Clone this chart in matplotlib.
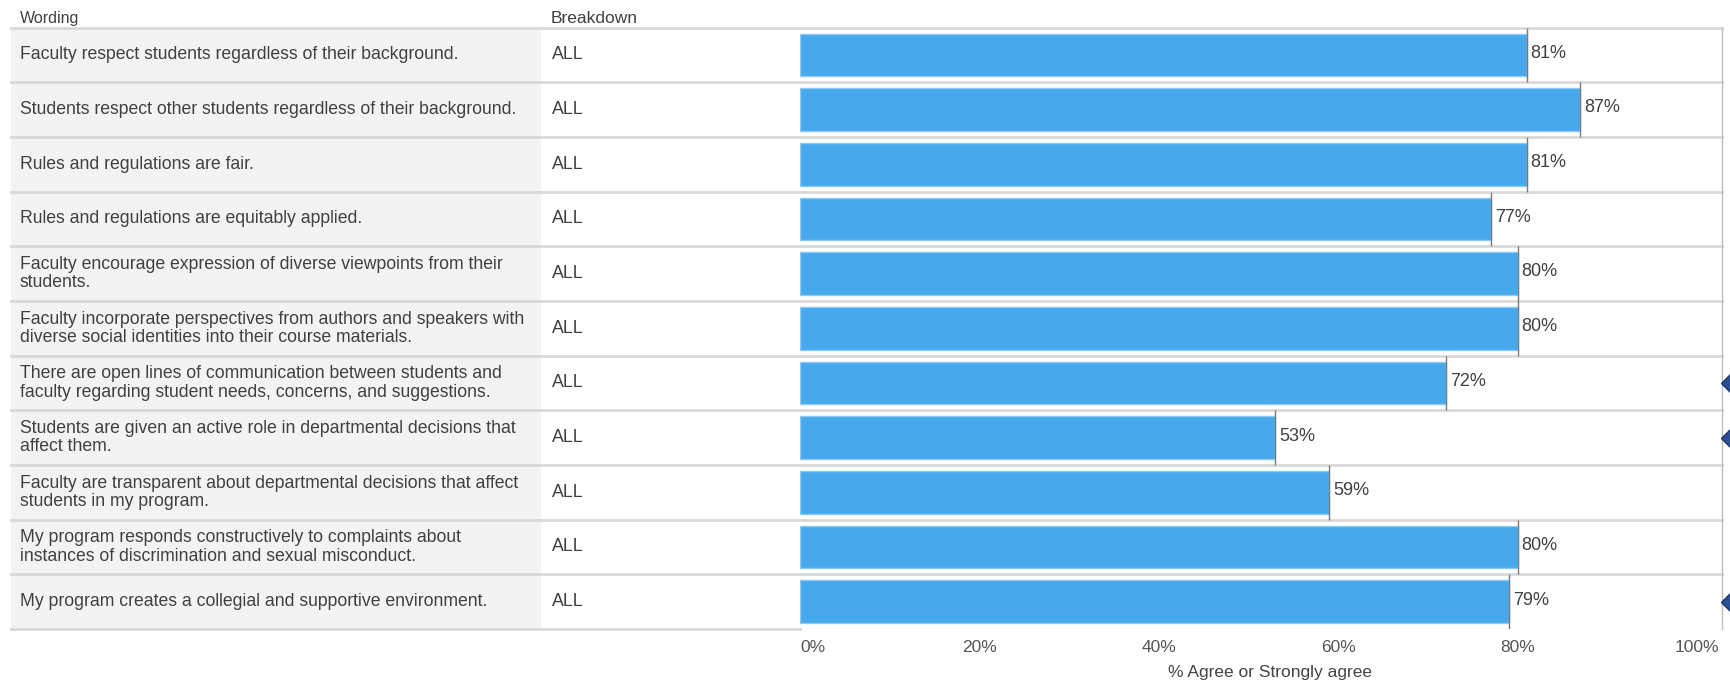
import matplotlib
matplotlib.use("Agg")
import matplotlib.pyplot as plt
import matplotlib.transforms as mtransforms
from matplotlib.patches import Rectangle

# =========================
# DATA
# =========================

wording = [
    "Faculty respect students regardless of their background.",
    "Students respect other students regardless of their background.",
    "Rules and regulations are fair.",
    "Rules and regulations are equitably applied.",
    "Faculty encourage expression of diverse viewpoints from their\nstudents.",
    "Faculty incorporate perspectives from authors and speakers with\ndiverse social identities into their course materials.",
    "There are open lines of communication between students and\nfaculty regarding student needs, concerns, and suggestions.",
    "Students are given an active role in departmental decisions that\naffect them.",
    "Faculty are transparent about departmental decisions that affect\nstudents in my program.",
    "My program responds constructively to complaints about\ninstances of discrimination and sexual misconduct.",
    "My program creates a collegial and supportive environment.",
]
breakdown = ["ALL"] * 11
pct_agree = [81, 87, 81, 77, 80, 80, 72, 53, 59, 80, 79]
flagged = [False, False, False, False, False, False, True, True, False, False, True]
tick_values = [0, 20, 40, 60, 80, 100]

# =========================
# STYLE
# =========================

W, H = 1731, 684
FONT = "Liberation Sans"
TEXT = "#404040"
BAR = "#47a8ec"
GRID = "#d9d9d9"

plt.rcParams["font.family"] = [FONT, "DejaVu Sans"]

fig = plt.figure(figsize=(W / 100, H / 100), dpi=100)

top_px, bottom_px = 27.6, 629
left_px = 800
ax = fig.add_axes([left_px / W, 1 - bottom_px / H,
                   (W - left_px) / W, (bottom_px - top_px) / H])

n = len(pct_agree)
rows = list(range(n))

ax.set_ylim(n - 0.5, -0.5)
ax.set_xlim(0, (W - left_px) / 8.97)

# figure-x / data-y transform for the table part
tr = mtransforms.blended_transform_factory(fig.transFigure, ax.transData)

# gray wording column
ax.add_patch(Rectangle((11 / W, -0.5), (541 - 11) / W, n, transform=tr,
                       facecolor="#f3f3f3", edgecolor="none",
                       clip_on=False, zorder=0))

# row separators
for i in range(n + 1):
    y = i - 0.5
    x_end = 1722 / W if i < n else left_px / W
    ax.plot([11 / W, x_end], [y, y], transform=tr, color=GRID,
            lw=2, clip_on=False, zorder=1)

# right border
ax.plot([1722 / W, 1722 / W], [-0.5, n - 0.5], transform=tr,
        color="#bdbdbd", lw=1, clip_on=False, zorder=1)

# bars
ax.barh(rows, pct_agree, height=0.78, color=BAR, edgecolor="#8ccaf4",
        linewidth=1, zorder=2)
ax.vlines(pct_agree, [r - 0.5 for r in rows], [r + 0.5 for r in rows],
          color="#7a7a7a", lw=1, zorder=3)

for r, v in zip(rows, pct_agree):
    ax.text(v + 0.45, r - 0.03, f"{v}%", va="center", ha="left",
            fontsize=13, color=TEXT, zorder=4)

# table text
for r, (w, b) in zip(rows, zip(wording, breakdown)):
    ax.text(20 / W, r, w, transform=tr, va="center", ha="left",
            fontsize=12.7, color=TEXT, linespacing=1.1)
    ax.text(552 / W, r, b, transform=tr, va="center", ha="left",
            fontsize=12.8, color=TEXT)

fig.text(20 / W, 1 - 18.8 / H, "Wording", va="center", ha="left",
         fontsize=11.5, color=TEXT)
fig.text(551 / W, 1 - 18.8 / H, "Breakdown", va="center", ha="left",
         fontsize=12.5, color=TEXT)

# flag markers at the right edge
for r, f in zip(rows, flagged):
    if f:
        ax.plot([ax.get_xlim()[1]], [r], marker="D", markersize=10,
                color="#2c4f93", markeredgecolor="#1d3569",
                clip_on=False, zorder=5)

# axis
ax.set_xticks(tick_values)
ax.set_xticklabels([f"{t}%" for t in tick_values])
ax.tick_params(axis="x", length=0, pad=8, labelsize=12.5, labelcolor="#555555")
ax.get_xticklabels()[0].set_ha("left")
ax.set_yticks([])
for s in ax.spines.values():
    s.set_visible(False)

ax.set_xlabel("% Agree or Strongly agree", fontsize=12.5, color="#444444",
              va="center")
ax.xaxis.set_label_coords((1270 - left_px) / (W - left_px),
                          -(672 - bottom_px) / (bottom_px - top_px))

fig.savefig("out.png", dpi=100)
